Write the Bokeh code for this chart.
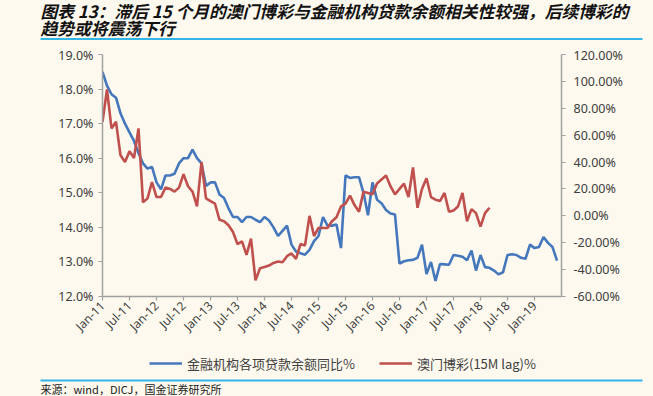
import math
from bokeh.plotting import figure
from bokeh.layouts import column
from bokeh.models import Range1d, LinearAxis, FixedTicker, Legend, LegendItem
from bokeh.core.properties import value
from bokeh.embed import file_html
from bokeh.resources import INLINE

# ---------------- data ----------------
title_lines = ["图表 13：滞后 15 个月的澳门博彩与金融机构贷款余额相关性较强，后续博彩的",
               "趋势或将震荡下行"]
source_text = "来源：wind，DICJ，国金证券研究所"
series_names = ["金融机构各项贷款余额同比%", "澳门博彩(15M lag)%"]

tick_labels = ["Jan-11", "Jul-11", "Jan-12", "Jul-12", "Jan-13", "Jul-13", "Jan-14",
               "Jul-14", "Jan-15", "Jul-15", "Jan-16", "Jul-16", "Jan-17", "Jul-17",
               "Jan-18", "Jul-18", "Jan-19"]

left_ticks = [12, 13, 14, 15, 16, 17, 18, 19]
left_labels = ["12.0%", "13.0%", "14.0%", "15.0%", "16.0%", "17.0%", "18.0%", "19.0%"]
right_ticks = [-60, -40, -20, 0, 20, 40, 60, 80, 100, 120]
right_labels = ["-60.00%", "-40.00%", "-20.00%", "0.00%", "20.00%", "40.00%",
                "60.00%", "80.00%", "100.00%", "120.00%"]

# 金融机构各项贷款余额同比% (monthly from Jan-11), left axis
loan_growth = [
    18.5, 18.1, 17.85, 17.75, 17.3, 17.0, 16.75, 16.5, 16.15, 15.85, 15.7, 15.75,
    15.3, 15.1, 15.5, 15.5, 15.55, 15.85, 16.0, 16.0, 16.25, 16.0, 15.85, 15.2,
    15.3, 15.3, 14.95, 14.85, 14.55, 14.3, 14.3, 14.15, 14.3, 14.3, 14.22, 14.15,
    14.3, 14.2, 14.0, 13.75, 13.9, 14.05, 13.5, 13.3, 13.25, 13.21, 13.35, 13.6,
    13.75, 14.3, 14.05, 14.05, 14.08, 13.4, 15.5, 15.43, 15.45, 15.45, 15.0, 14.35,
    15.3, 14.8, 14.7, 14.5, 14.4, 14.37, 12.95, 13.02, 13.05, 13.06, 13.12, 13.5,
    12.65, 13.0, 12.45, 12.94, 12.93, 12.92, 13.2, 13.18, 13.15, 13.05, 13.33, 12.75,
    13.2, 12.85, 12.83, 12.75, 12.64, 12.7, 13.2, 13.22, 13.2, 13.12, 13.09, 13.5,
    13.4, 13.43, 13.72, 13.55, 13.43, 13.04,
]

# 澳门博彩(15M lag)% (monthly from Jan-11), right axis
macau_gaming = [
    70, 94, 65, 70, 45, 40, 48, 43, 65, 10, 13, 25,
    14, 14, 21, 20, 18, 21, 31, 22, 18, 7, 40, 13,
    11, 9, -3, -4, -7, -12, -21, -19, -29, -17, -48, -39,
    -38, -37, -35, -34, -34.5, -30, -28, -32, -21, -22, 0, -15,
    -9, -9, -9, -4, -1, 7, 9, 15, 8, 3, 18, 17,
    16, 24, 27, 30, 22, 16, 20, 24, 14, 36, 6, 20,
    28, 14, 12, 11, 17, 3, 4, 7, 17, -4, 5, 2,
    -8, 2, 6,
]

loan_x = list(range(len(loan_growth)))
macau_x = list(range(len(macau_gaming)))

# ---------------- style ----------------
W = 653
BG = "#FDF9EE"
BLUE = "#4577BD"
RED = "#C0504D"
RULE = "#33B5E8"
AXIS = "#A0A0A0"
TXT = "#404040"
NUM_FONT = "Noto Sans"
CJK_FONT = "Noto Sans CJK SC"

HEADER_H = 46
FOOTER_H = 50


def blank_fig(h):
    # pixel-mapped canvas: x in px from left, y in px from bottom
    f = figure(width=W, height=h, output_backend="svg", toolbar_location=None,
               x_range=Range1d(0, W), y_range=Range1d(0, h), min_border=0,
               x_axis_location=None, y_axis_location=None, frame_align=False)
    f.grid.visible = False
    f.outline_line_color = None
    f.background_fill_color = BG
    f.border_fill_color = BG
    return f


# ---------------- header ----------------
header = blank_fig(HEADER_H)
header.text(x=[40, 40], y=[HEADER_H - 10.5, HEADER_H - 27.5], text=title_lines,
            text_font=value(CJK_FONT), text_font_size="16.8px",
            text_font_style="bold italic", text_color="#111111",
            text_baseline="middle", text_align="left")
header.line(x=[40, 642], y=[HEADER_H - 38.5, HEADER_H - 38.5],
            line_color=RULE, line_width=2)

# ---------------- main chart ----------------
p = figure(width=W, height=300, output_backend="svg", toolbar_location=None,
           x_range=Range1d(0, 102), y_range=Range1d(12, 19),
           min_border_left=102, min_border_right=92, min_border_top=8,
           min_border_bottom=50, frame_align=False)
p.background_fill_color = BG
p.border_fill_color = BG
p.outline_line_color = None
p.grid.visible = False
p.extra_y_ranges = {"right": Range1d(-60, 120)}

p.line(loan_x, loan_growth, line_color=BLUE, line_width=2.6)
p.line(macau_x, macau_gaming, line_color=RED, line_width=2.6, y_range_name="right")

xa = p.xaxis[0]
xa.ticker = FixedTicker(ticks=[6 * i for i in range(len(tick_labels))])
xa.major_label_overrides = {6 * i: lab for i, lab in enumerate(tick_labels)}
xa.major_label_orientation = math.pi / 4

ya = p.yaxis[0]
ya.ticker = FixedTicker(ticks=left_ticks)
ya.major_label_overrides = {t: l for t, l in zip(left_ticks, left_labels)}

ra = LinearAxis(y_range_name="right")
ra.ticker = FixedTicker(ticks=right_ticks)
ra.major_label_overrides = {t: l for t, l in zip(right_ticks, right_labels)}
p.add_layout(ra, "right")

for ax in [xa, ya, ra]:
    ax.axis_line_color = AXIS
    ax.axis_line_width = 1.5
    ax.major_tick_line_color = AXIS
    ax.major_tick_line_width = 1.2
    ax.major_tick_in = 0
    ax.major_tick_out = 4
    ax.minor_tick_line_color = None
    ax.major_label_text_font = NUM_FONT
    ax.major_label_text_font_size = "12.5px"
    ax.major_label_text_color = TXT
xa.major_label_text_font_size = "12px"
xa.major_label_standoff = 3
ya.major_label_standoff = 5
ra.major_label_standoff = 8

# ---------------- footer (legend, rule, source) ----------------
footer = blank_fig(FOOTER_H)
# legend-key renderers: a single point placed off the canvas (nothing visible)
k1 = footer.line(x=[-20], y=[-20], line_color=BLUE, line_width=2.6)
k2 = footer.line(x=[-20], y=[-20], line_color=RED, line_width=2.6)
legend = Legend(items=[LegendItem(label=series_names[0], renderers=[k1], index=0),
                       LegendItem(label=series_names[1], renderers=[k2], index=0)],
                location=(149, 23), orientation="horizontal",
                padding=0, margin=0, spacing=24, glyph_width=33, glyph_height=20,
                label_standoff=5, label_height=20,
                label_text_font=CJK_FONT, label_text_font_size="13px",
                label_text_color=TXT, background_fill_alpha=0,
                border_line_color=None)
footer.add_layout(legend)
footer.line(x=[40, 642], y=[FOOTER_H - 34, FOOTER_H - 34],
            line_color=RULE, line_width=2)
footer.text(x=[40], y=[FOOTER_H - 42], text=[source_text], text_font=value(CJK_FONT),
            text_font_size="11px", text_color="#222222",
            text_baseline="middle", text_align="left")

layout = column(header, p, footer, spacing=0)

template = "{% block postamble %}<style>body{background-color:#FDF9EE;}</style>{% endblock %}"
open("out.html", "w").write(file_html(layout, INLINE, template=template))
